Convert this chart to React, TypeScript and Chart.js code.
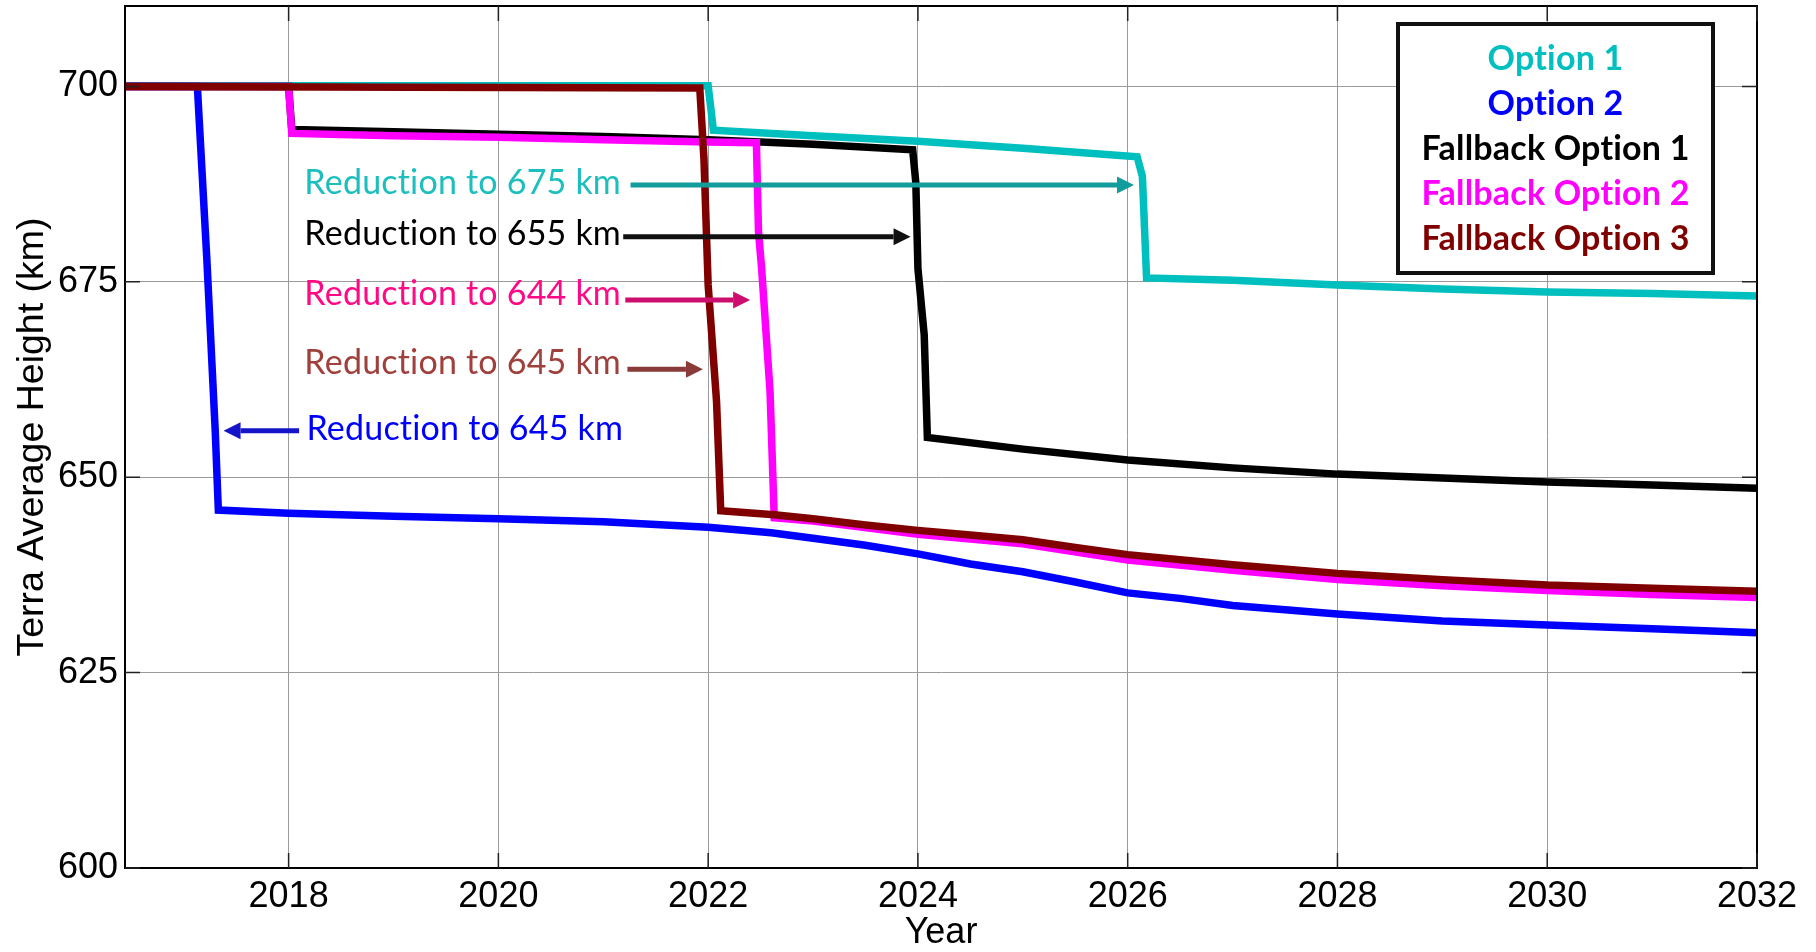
import React, { useEffect, useRef } from "react";
import { Chart, registerables } from "chart.js";

Chart.register(...registerables);

// ---------------- Data ----------------
const xTickYears = [2018, 2020, 2022, 2024, 2026, 2028, 2030, 2032];
const yTickKm = [600, 625, 650, 675, 700];

const seriesLabels = ["Option 1", "Option 2", "Fallback Option 1", "Fallback Option 2", "Fallback Option 3"];

const option1Years = [2016.44, 2022.0, 2022.05, 2023.0, 2024.0, 2025.0, 2026.09, 2026.14, 2026.18, 2027.0, 2028.0, 2029.0, 2030.0, 2031.0, 2032.0];
const option1Km = [700.1, 700.1, 694.4, 693.7, 693.0, 692.1, 691.0, 688.5, 675.5, 675.2, 674.6, 674.1, 673.7, 673.5, 673.2];

const option2Years = [2016.44, 2017.13, 2017.22, 2017.3, 2017.33, 2018.0, 2019.0, 2020.0, 2021.0, 2022.0, 2022.6, 2023.0, 2023.5, 2024.0, 2024.5, 2025.0, 2025.5, 2026.0, 2026.5, 2027.0, 2028.0, 2029.0, 2030.0, 2031.0, 2032.0];
const option2Km = [700, 700, 678, 656, 645.8, 645.4, 645.0, 644.7, 644.3, 643.6, 642.9, 642.2, 641.3, 640.2, 638.9, 637.9, 636.6, 635.2, 634.5, 633.6, 632.5, 631.6, 631.1, 630.6, 630.1];

const fallback1Years = [2016.44, 2018.0, 2018.03, 2019.0, 2020.0, 2021.0, 2022.0, 2023.0, 2023.95, 2023.98, 2024.0, 2024.06, 2024.09, 2025.0, 2026.0, 2027.0, 2028.0, 2029.0, 2030.0, 2031.0, 2032.0];
const fallback1Km = [700, 700, 694.5, 694.2, 693.9, 693.6, 693.2, 692.6, 691.9, 687.7, 676.7, 668.2, 655.1, 653.6, 652.2, 651.2, 650.4, 649.9, 649.4, 649.0, 648.6];

const fallback2Years = [2016.44, 2018.0, 2018.03, 2019.0, 2020.0, 2021.0, 2022.0, 2022.46, 2022.48, 2022.51, 2022.59, 2022.63, 2023.0, 2024.0, 2025.0, 2026.0, 2027.0, 2028.0, 2029.0, 2030.0, 2031.0, 2032.0];
const fallback2Km = [700, 700, 694.0, 693.7, 693.5, 693.2, 692.9, 692.8, 681.4, 676.7, 661.0, 644.8, 644.4, 642.7, 641.5, 639.4, 638.1, 636.9, 636.1, 635.5, 635.0, 634.6];

const fallback3Years = [2016.44, 2021.92, 2021.96, 2022.0, 2022.08, 2022.12, 2022.63, 2023.0, 2023.5, 2024.0, 2024.5, 2025.0, 2025.5, 2026.0, 2027.0, 2028.0, 2029.0, 2030.0, 2031.0, 2032.0];
const fallback3Km = [700, 699.8, 690.7, 674.6, 659.7, 645.7, 645.2, 644.7, 643.9, 643.2, 642.6, 642.0, 641.0, 640.1, 638.8, 637.7, 636.9, 636.2, 635.8, 635.4];

const seriesColors = ["#00BFBF", "#0000FF", "#000000", "#FF00FF", "#800000"];

// Annotation texts and where they point (data units)
const annotationTexts = ["Reduction to 675 km", "Reduction to 655 km", "Reduction to 644 km", "Reduction to 645 km", "Reduction to 645 km"];
const annotationTextYear = [2018.15, 2018.15, 2018.15, 2018.15, 2018.17];
const annotationTextKm = [686.3, 679.7, 672.1, 663.2, 654.8];
const arrowFromYear = [2021.26, 2021.19, 2021.21, 2021.23, 2018.10];
const arrowToYear = [2026.06, 2023.93, 2022.40, 2021.95, 2017.38];
const arrowKm = [687.38, 680.77, 672.67, 663.81, 655.96];
const annotationTextColors = ["#1CBEBE", "#000000", "#FF0A86", "#A0403C", "#0000FF"];
const arrowColors = ["#139C9C", "#111111", "#CC0E6E", "#8B3A3A", "#1414C8"];

const toPoints = (xs: number[], ys: number[]) => xs.map((v, i) => ({ x: v, y: ys[i] }));

const TICK_FONT = "Liberation Sans";
const NOTE_FONT = "Lato";

const overlayPlugin = {
  id: "overlay",
  afterDatasetsDraw(chart: any) {
    const { ctx, chartArea: a, scales } = chart;
    const xs = scales.x;
    const ys = scales.y;
    ctx.save();

    // frame
    ctx.strokeStyle = "#000";
    ctx.lineWidth = 2;
    ctx.strokeRect(a.left, a.top, a.right - a.left, a.bottom - a.top);

    // inner tick marks
    ctx.lineWidth = 1.5;
    ctx.strokeStyle = "#222";
    const tl = 15;
    ctx.beginPath();
    for (const v of xTickYears) {
      const px = xs.getPixelForValue(v);
      ctx.moveTo(px, a.bottom);
      ctx.lineTo(px, a.bottom - tl);
      ctx.moveTo(px, a.top);
      ctx.lineTo(px, a.top + tl);
    }
    for (const v of yTickKm) {
      const py = ys.getPixelForValue(v);
      ctx.moveTo(a.left, py);
      ctx.lineTo(a.left + tl, py);
      ctx.moveTo(a.right, py);
      ctx.lineTo(a.right - tl, py);
    }
    ctx.stroke();

    // annotations
    ctx.textAlign = "left";
    ctx.textBaseline = "alphabetic";
    ctx.font = `34px ${NOTE_FONT}`;
    try {
      (ctx as any).letterSpacing = "0.2px";
    } catch (e) {
      /* ignore */
    }
    for (let i = 0; i < annotationTexts.length; i++) {
      ctx.fillStyle = annotationTextColors[i];
      ctx.fillText(annotationTexts[i], xs.getPixelForValue(annotationTextYear[i]), ys.getPixelForValue(annotationTextKm[i]));
      const x0 = xs.getPixelForValue(arrowFromYear[i]);
      const x1 = xs.getPixelForValue(arrowToYear[i]);
      const yy = ys.getPixelForValue(arrowKm[i]);
      const dir = Math.sign(x1 - x0);
      const headLen = 17;
      const headHalf = 8.5;
      ctx.strokeStyle = arrowColors[i];
      ctx.fillStyle = arrowColors[i];
      ctx.lineWidth = 5;
      ctx.beginPath();
      ctx.moveTo(x0, yy);
      ctx.lineTo(x1 - dir * headLen, yy);
      ctx.stroke();
      ctx.beginPath();
      ctx.moveTo(x1, yy);
      ctx.lineTo(x1 - dir * headLen, yy - headHalf);
      ctx.lineTo(x1 - dir * headLen, yy + headHalf);
      ctx.closePath();
      ctx.fill();
    }

    // legend box
    const boxW = 315;
    const boxH = 249;
    const boxRight = a.right - 44;
    const boxTop = a.top + 18;
    const boxLeft = boxRight - boxW;
    ctx.fillStyle = "#fff";
    ctx.fillRect(boxLeft, boxTop, boxW, boxH);
    ctx.strokeStyle = "#111";
    ctx.lineWidth = 4;
    ctx.strokeRect(boxLeft, boxTop, boxW, boxH);
    ctx.textAlign = "center";
    ctx.font = `bold 34px ${NOTE_FONT}`;
    chart.data.datasets.forEach((ds: any, i: number) => {
      ctx.fillStyle = ds.borderColor;
      ctx.fillText(ds.label, boxLeft + boxW / 2, boxTop + 46 + i * 45);
    });

    ctx.restore();
  },
};

export default function App() {
  const canvasRef = useRef<HTMLCanvasElement | null>(null);

  useEffect(() => {
    let chart: Chart | null = null;
    let cancelled = false;
    const make = () => {
      if (cancelled || !canvasRef.current) return;
      const common = { borderWidth: 7.5, pointRadius: 0, tension: 0, fill: false, clip: 0 };
      const allYears = [option1Years, option2Years, fallback1Years, fallback2Years, fallback3Years];
      const allKm = [option1Km, option2Km, fallback1Km, fallback2Km, fallback3Km];
      const orders = [4, 3, 2, 1, 0];
      chart = new Chart(canvasRef.current, {
        type: "line",
        data: {
          datasets: seriesLabels.map((label, i) => ({
            ...common,
            label,
            data: toPoints(allYears[i], allKm[i]),
            borderColor: seriesColors[i],
            backgroundColor: seriesColors[i],
            order: orders[i],
          })),
        },
        options: {
          animation: false,
          responsive: false,
          layout: { padding: { top: 6, right: 59, left: 0, bottom: 0 } },
          plugins: { legend: { display: false }, tooltip: { enabled: false } },
          scales: {
            x: {
              type: "linear",
              min: 2016.44,
              max: 2032,
              afterBuildTicks: (s: any) => {
                s.ticks = xTickYears.map((v) => ({ value: v }));
              },
              afterFit: (s: any) => {
                s.height = 84;
                s.paddingLeft = 0;
                s.paddingRight = 0;
              },
              ticks: {
                color: "#000",
                padding: 7,
                font: { family: TICK_FONT, size: 36 },
                callback: (v: any) => String(v),
                maxRotation: 0,
                autoSkip: false,
              },
              grid: { color: "#9a9a9a", lineWidth: 1, drawTicks: false },
              border: { display: true, color: "#000", width: 2 },
              title: {
                display: true,
                text: "Year",
                color: "#000",
                font: { family: TICK_FONT, size: 36, lineHeight: 1 },
                padding: { top: 0, bottom: 1 },
              },
            },
            y: {
              type: "linear",
              min: 600,
              max: 710.3,
              afterBuildTicks: (s: any) => {
                s.ticks = yTickKm.map((v) => ({ value: v }));
              },
              afterFit: (s: any) => {
                s.width = 125;
                s.paddingTop = 0;
                s.paddingBottom = 0;
              },
              ticks: {
                color: "#000",
                padding: 7,
                font: { family: TICK_FONT, size: 36 },
                callback: (v: any) => String(v),
              },
              grid: { color: "#9a9a9a", lineWidth: 1, drawTicks: false },
              border: { display: true, color: "#000", width: 2 },
              title: {
                display: true,
                text: "Terra Average Height (km)",
                color: "#000",
                font: { family: TICK_FONT, size: 37.5, lineHeight: 1 },
                padding: { top: 14, bottom: 0 },
              },
            },
          },
        },
        plugins: [overlayPlugin],
      } as any);
    };
    const loads = [
      `36px "${TICK_FONT}"`,
      `34px ${NOTE_FONT}`,
      `bold 34px ${NOTE_FONT}`,
    ].map((f) => (document as any).fonts.load(f).catch(() => null));
    Promise.all(loads).then(make, make);
    return () => {
      cancelled = true;
      if (chart) chart.destroy();
    };
  }, []);

  return (
    <div style={{ position: "fixed", left: 0, top: 0, width: 1816, height: 952, background: "#fff" }}>
      <canvas ref={canvasRef} width={1816} height={952} style={{ display: "block" }} />
    </div>
  );
}
